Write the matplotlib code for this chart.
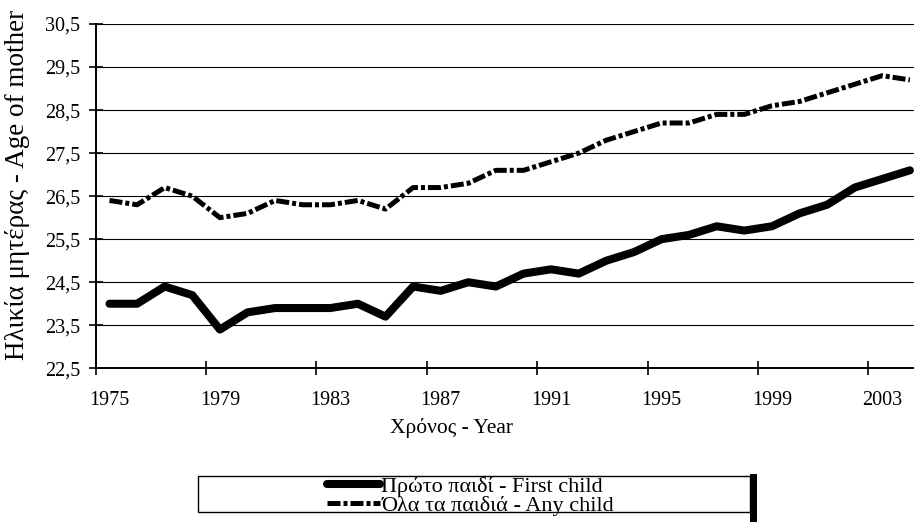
import matplotlib
matplotlib.use("Agg")
import matplotlib.pyplot as plt
from matplotlib.patches import Rectangle

years = list(range(1975, 2005))
first_child = [24.0, 24.0, 24.4, 24.2, 23.4, 23.8, 23.9, 23.9, 23.9, 24.0,
               23.7, 24.4, 24.3, 24.5, 24.4, 24.7, 24.8, 24.7, 25.0, 25.2,
               25.5, 25.6, 25.8, 25.7, 25.8, 26.1, 26.3, 26.7, 26.9, 27.1]
any_child = [26.4, 26.3, 26.7, 26.5, 26.0, 26.1, 26.4, 26.3, 26.3, 26.4,
             26.2, 26.7, 26.7, 26.8, 27.1, 27.1, 27.3, 27.5, 27.8, 28.0,
             28.2, 28.2, 28.4, 28.4, 28.6, 28.7, 28.9, 29.1, 29.3, 29.2]
y_ticks = [22.5, 23.5, 24.5, 25.5, 26.5, 27.5, 28.5, 29.5, 30.5]
label_first = "Πρώτο παιδί - First child"
label_any = "Όλα τα παιδιά - Any child"

plt.rcParams['font.family'] = ['Liberation Serif', 'DejaVu Serif']

W, H = 914, 522
fig = plt.figure(figsize=(W / 100, H / 100), dpi=100)
# plot area runs a little past the right edge, like the cropped original
left, right, top, bottom = 95.7, 923.7, 24.0, 368.3
ax = fig.add_axes([left / W, 1 - bottom / H, (right - left) / W, (bottom - top) / H])

x = list(range(len(years)))
ax.plot(x, first_child, color='black', lw=5.8, solid_capstyle='round',
        solid_joinstyle='round', label=label_first, zorder=3)
ax.plot(x, any_child, color='black', lw=3.6, linestyle=(0, (2.6, 0.6, 0.8, 0.6)),
        dash_capstyle='butt', label=label_any, zorder=3)

ax.set_xlim(-0.5, len(years) - 0.5)
ax.set_ylim(22.5, 30.5)

# category axis: tick marks between categories, labels at the centres
ax.set_xticks([i - 0.5 for i in range(0, len(years), 4)])
ax.set_xticklabels([])
ax.set_xticks(list(range(0, len(years), 4)), minor=True)
ax.set_xticklabels([str(years[i]) for i in range(0, len(years), 4)], minor=True)
ax.tick_params(axis='x', which='major', direction='inout', length=9.4, width=1.2)
ax.tick_params(axis='x', which='minor', length=0, pad=16, labelsize=14.5)

ax.set_yticks(y_ticks)
ax.set_yticklabels([f"{v:.1f}".replace('.', ',') for v in y_ticks])
ax.tick_params(axis='y', direction='inout', length=9.4, width=1.2, pad=6.3, labelsize=14.5)

ax.yaxis.grid(True, color='black', lw=0.8)
ax.set_axisbelow(True)
for side in ['top', 'right']:
    ax.spines[side].set_visible(False)
for side in ['left', 'bottom']:
    ax.spines[side].set_linewidth(1.4)

fig.text(452 / W, 1 - 428 / H, "Χρόνος - Year", ha='center', va='center', fontsize=15.5)
fig.text(18 / W, 1 - 360 / H, "Ηλικία μητέρας - Age of mother", rotation=90,
         ha='center', va='bottom', fontsize=19.5)

# legend box with the dark shadow on its right side
fig.patches.append(Rectangle((750 / W, 0), 7 / W, 1 - 474 / H, transform=fig.transFigure,
                             facecolor='black', edgecolor='none', zorder=1))
fig.patches.append(Rectangle((198.3 / W, 1 - 511.7 / H), (750 - 198.3) / W, (511.7 - 476) / H,
                             transform=fig.transFigure, facecolor='white',
                             edgecolor='black', lw=1, zorder=2))
leg = fig.legend(loc='upper left', bbox_to_anchor=(327 / W, 1 - 476.5 / H), frameon=False,
                 fontsize=16, handlelength=2.4, handletextpad=0.05, borderpad=0.0,
                 borderaxespad=0, labelspacing=-0.08)
leg.set_zorder(5)

fig.savefig("out.png", dpi=100)
